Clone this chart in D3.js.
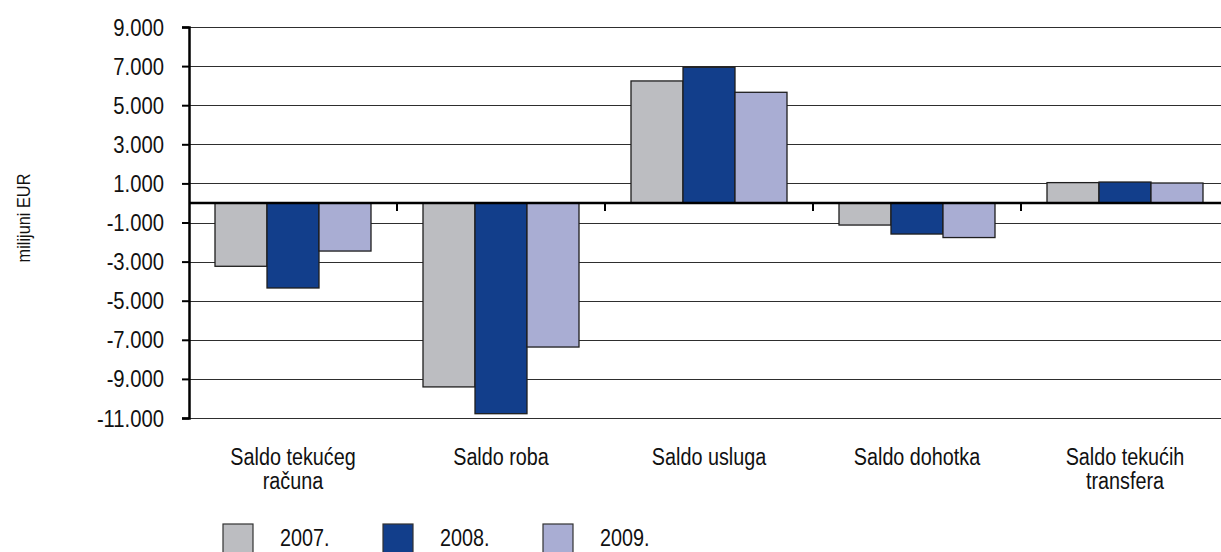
<!DOCTYPE html>
<html lang="hr">
<head>
    <meta charset="UTF-8">
    <title>Saldo tekućeg računa</title>
    <script src="https://d3js.org/d3.v7.min.js"></script>
    <style>
        body { margin: 0; background: #fff; overflow: hidden; }
        text { font-family: "Liberation Sans Narrow", "Arial Narrow", "Liberation Sans", sans-serif; fill: #111; }
    </style>
</head>
<body>
    <script>
        // data (milijuni EUR)
        const categories = ["Saldo tekućeg\nračuna", "Saldo roba", "Saldo usluga", "Saldo dohotka", "Saldo tekućih\ntransfera"];
        const years = ["2007.", "2008.", "2009."];
        const values2007 = [-3240, -9410, 6240, -1130, 1040];
        const values2008 = [-4350, -10780, 6940, -1590, 1070];
        const values2009 = [-2460, -7370, 5660, -1770, 1020];
        const yTicks = [-11000, -9000, -7000, -5000, -3000, -1000, 1000, 3000, 5000, 7000, 9000];
        const colors = ["#bcbdc1", "#123e8b", "#a9add3"];

        const series = [values2007, values2008, values2009];
        const width = 1221, height = 552;
        const plotLeft = 189, plotRight = 1229, plotTop = 27, plotBottom = 418;
        const narrow = 0.86; // the original font is condensed

        const svg = d3.select("body").append("svg")
            .attr("width", width)
            .attr("height", height);

        const x0 = d3.scaleBand().domain(categories).range([plotLeft, plotRight]).padding(0);
        const x1 = d3.scaleBand().domain(years).range([0, x0.bandwidth()])
            .paddingInner(0).paddingOuter(0.5);
        const y = d3.scaleLinear().domain([-11000, 9000]).range([plotBottom, plotTop]);
        const color = d3.scaleOrdinal().domain(years).range(colors);

        const hr = d3.formatLocale({ decimal: ",", thousands: ".", grouping: [3], currency: ["", " EUR"], minus: "-" });
        const fmt = hr.format(",d");

        // gridlines
        svg.append("g").selectAll("line")
            .data(yTicks)
            .enter().append("line")
            .attr("x1", plotLeft).attr("x2", plotRight)
            .attr("y1", d => Math.round(y(d)) + 0.5)
            .attr("y2", d => Math.round(y(d)) + 0.5)
            .attr("stroke", "#2e2e2e")
            .attr("stroke-width", 1.2);

        // bars
        const groups = svg.append("g").selectAll("g")
            .data(categories)
            .enter().append("g")
            .attr("transform", d => `translate(${x0(d)},0)`);

        groups.selectAll("rect")
            .data((d, i) => years.map((yr, j) => ({ year: yr, value: series[j][i] })))
            .enter().append("rect")
            .attr("x", d => x1(d.year))
            .attr("width", x1.bandwidth())
            .attr("y", d => y(Math.max(0, d.value)))
            .attr("height", d => Math.abs(y(d.value) - y(0)))
            .attr("fill", d => color(d.year))
            .attr("stroke", "#1e1e1e")
            .attr("stroke-width", 1.3);

        // y axis
        const yAxis = svg.append("g")
            .attr("transform", `translate(${plotLeft},0)`)
            .call(d3.axisLeft(y).tickValues(yTicks).tickFormat(fmt).tickSize(7).tickPadding(18));
        yAxis.select(".domain").attr("stroke", "#000").attr("stroke-width", 2.5);
        yAxis.selectAll(".tick line").attr("stroke", "#000").attr("stroke-width", 2);
        yAxis.selectAll(".tick text")
            .attr("x", 0)
            .attr("transform", "translate(-25,0) scale(0.88,1)")
            .attr("font-size", 23)
            .attr("dy", "0.35em")
            .style("fill", "#111");

        // zero line with category ticks
        svg.append("line")
            .attr("x1", plotLeft).attr("x2", plotRight)
            .attr("y1", y(0)).attr("y2", y(0))
            .attr("stroke", "#000")
            .attr("stroke-width", 2.5);

        svg.append("g").selectAll("line")
            .data(categories.slice(1))
            .enter().append("line")
            .attr("x1", d => x0(d)).attr("x2", d => x0(d))
            .attr("y1", y(0)).attr("y2", y(0) + 8)
            .attr("stroke", "#000")
            .attr("stroke-width", 2);

        // category labels
        const labels = svg.append("g").selectAll("text")
            .data(categories)
            .enter().append("text")
            .attr("transform", d => `translate(${x0(d) + x0.bandwidth() / 2},465) scale(${narrow},1)`)
            .attr("text-anchor", "middle")
            .attr("font-size", 23);
        labels.selectAll("tspan")
            .data(d => d.split("\n"))
            .enter().append("tspan")
            .attr("x", 0)
            .attr("dy", (d, i) => i === 0 ? 0 : 24)
            .text(d => d);

        // y axis title
        svg.append("text")
            .attr("transform", `translate(30,218) rotate(-90) scale(${narrow},1)`)
            .attr("text-anchor", "middle")
            .attr("font-size", 19)
            .text("milijuni EUR");

        // legend
        const legend = svg.append("g").selectAll("g")
            .data(years)
            .enter().append("g")
            .attr("transform", (d, i) => `translate(${223 + i * 160},524)`);
        legend.append("rect")
            .attr("width", 30).attr("height", 30)
            .attr("fill", d => color(d))
            .attr("stroke", "#333")
            .attr("stroke-width", 1.2);
        legend.append("text")
            .attr("transform", `translate(57,22) scale(${narrow},1)`)
            .attr("font-size", 23)
            .text(d => d);
    </script>
</body>
</html>
